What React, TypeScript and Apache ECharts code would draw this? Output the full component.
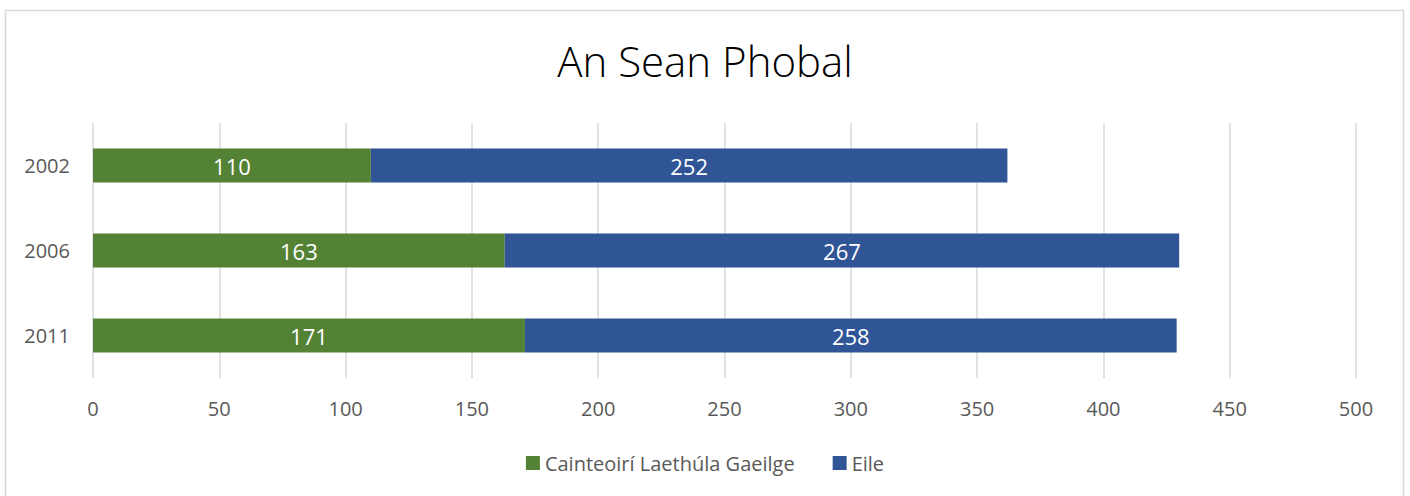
import React, { useEffect, useRef } from "react";
import * as echarts from "echarts";

const categories = ["2002", "2006", "2011"];
const gaeilge = [110, 163, 171];
const eile = [252, 267, 258];
const seriesNames = ["Cainteoirí Laethúla Gaeilge", "Eile"];
const title = "An Sean Phobal";

export default function App() {
  const ref = useRef<HTMLDivElement>(null);
  useEffect(() => {
    if (!ref.current) return;
    const chart = echarts.init(ref.current, undefined, { renderer: "svg" });
    const font = "'Open Sans', sans-serif";
    chart.setOption({
      animation: false,
      backgroundColor: "#ffffff",
      textStyle: { fontFamily: font },
      graphic: [
        {
          type: "rect",
          shape: { x: 5.5, y: 10.5, width: 1398, height: 500 },
          style: { fill: "none", stroke: "#d9d9d9", lineWidth: 1.5 },
          silent: true,
        },
      ],
      title: {
        text: title,
        left: "center",
        top: 34,
        textStyle: { fontFamily: font, fontWeight: 300, fontSize: 42, color: "#000000" },
      },
      legend: {
        bottom: 18,
        left: "center",
        itemWidth: 14,
        itemHeight: 14,
        itemGap: 38,
        icon: "rect",
        textStyle: { fontFamily: font, fontSize: 20, color: "#595959" },
        data: seriesNames,
      },
      grid: { left: 93, right: 54, top: 123, bottom: 118 },
      xAxis: {
        type: "value",
        min: 0,
        max: 500,
        interval: 50,
        axisLine: { show: false },
        axisTick: { show: false },
        axisLabel: { fontFamily: font, fontSize: 20, color: "#595959", margin: 20 },
        splitLine: { lineStyle: { color: "#d9d9d9", width: 1.5 } },
      },
      yAxis: {
        type: "category",
        data: categories,
        inverse: true,
        axisLine: { show: false },
        axisTick: { show: false },
        axisLabel: { fontFamily: font, fontSize: 20, color: "#595959", margin: 23 },
      },
      series: [
        {
          name: seriesNames[0],
          type: "bar",
          stack: "total",
          data: gaeilge,
          barWidth: "40%",
          itemStyle: { color: "#548235" },
          label: { show: true, position: "inside", color: "#ffffff", fontFamily: font, fontSize: 22 },
        },
        {
          name: seriesNames[1],
          type: "bar",
          stack: "total",
          data: eile,
          barWidth: "40%",
          itemStyle: { color: "#2f5597" },
          label: { show: true, position: "inside", color: "#ffffff", fontFamily: font, fontSize: 22 },
        },
      ],
    });
    return () => chart.dispose();
  }, []);
  return (
    <div
      ref={ref}
      style={{ position: "absolute", left: 0, top: 0, width: 1410, height: 496 }}
    />
  );
}
